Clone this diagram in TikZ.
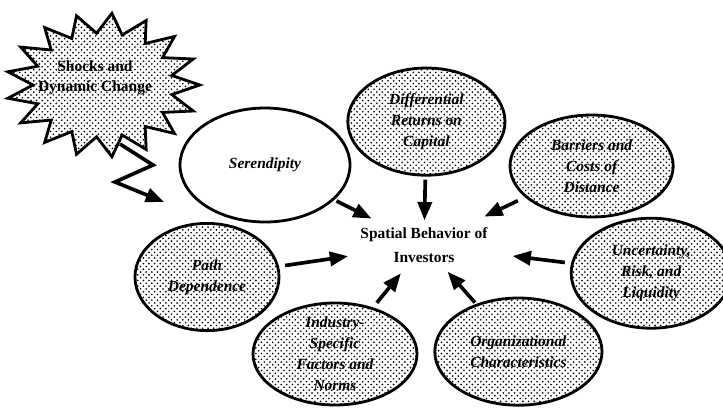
\documentclass[tikz,border=0pt]{standalone}
\usepackage{fontspec}
\setmainfont{Liberation Serif}
\usepackage{tikz}
\usetikzlibrary{positioning, arrows.meta, patterns, shapes.geometric, calc}
\pgfdeclarepatternformonly{sparse dots}{\pgfqpoint{-1pt}{-1pt}}{\pgfqpoint{5pt}{5pt}}{\pgfqpoint{4pt}{4pt}}%
{
  \pgfpathcircle{\pgfqpoint{0pt}{0pt}}{0.65pt}
  \pgfpathcircle{\pgfqpoint{2pt}{2pt}}{0.65pt}
  \pgfusepath{fill}
}
\tikzstyle{dot_node}=[ellipse, draw, line width=2pt, preaction={fill=white}, pattern=sparse dots, align=center, inner sep=0pt, font=\fontsize{11}{15}\selectfont\bfseries\itshape]
\tikzstyle{white_node}=[ellipse, draw, line width=2pt, fill=white, align=center, inner sep=0pt, font=\fontsize{11}{15}\selectfont\bfseries\itshape]
\tikzstyle{big_arrow}=[-{Triangle[length=13pt, width=10pt]}, line width=2.6pt]

\begin{document}
\begin{tikzpicture}
    \useasboundingbox (0,0) rectangle (18.075,-10.175);

    % the burst
    \begin{scope}[shift={(2.575,-2.125)}]
        \draw[line width=2pt, preaction={fill=white}, pattern=sparse dots, line join=miter]
            (0:2.42 and 1.8) \foreach \i in {0,...,16} {-- ({(\i+0.5)*360/17}:1.75 and 1.3) -- ({(\i+1)*360/17}:2.42 and 1.8)} -- cycle;
    \end{scope}
    \node[font=\fontsize{11}{14}\selectfont\bfseries, align=center] at (2.375, -1.95) (shock) {Shocks and\\Dynamic Change};

    \coordinate (zap0) at (3.0, -3.6);
    \coordinate (zap1) at (3.825, -4.125);
    \coordinate (zap2) at (2.875, -4.55);
    \coordinate (zap3) at (4.1, -5.05);
    \draw[big_arrow, line join=miter] (zap0) -- (zap1) -- (zap2) -- (zap3);

    \node[white_node, minimum width=4.25cm, minimum height=2.85cm] at ( 6.625, -4.125) (ser) {Serendipity};
    \node[dot_node, minimum width=3.93cm, minimum height=2.68cm] at (10.66, -3.04) (diff) {Differential\\Returns on\\Capital};
    \node[dot_node, minimum width=4.08cm, minimum height=2.55cm] at (14.79, -4.15) (bar) {Barriers and\\Costs of\\Distance};
    \node[dot_node, minimum width=4.0cm, minimum height=2.75cm] at (16.28, -6.83) (unc) {Uncertainty,\\Risk, and\\Liquidity};
    \node[dot_node, minimum width=3.6cm, minimum height=2.68cm] at ( 5.175, -6.925) (path) {Path\\Dependence};
    \node[dot_node, minimum width=4.1cm, minimum height=2.55cm, inner ysep=-6pt] at ( 8.375, -8.85) (ind) {Industry-\\Specific\\Factors and\\Norms};
    \node[dot_node, minimum width=4.18cm, minimum height=2.68cm] at (12.96, -8.79) (org) {Organizational\\Characteristics};

    \node[font=\fontsize{11}{17}\selectfont\bfseries, align=center] at (10.6, -6.125) (spb) {Spatial Behavior of\\Investors};

    \draw[big_arrow] ($(ser)!0.45!(spb)$) -- ($(ser)!0.67!(spb)$);
    \draw[big_arrow] ($(diff)!0.47!(spb)$) -- ($(diff)!0.8!(spb)$);
    \draw[big_arrow] ($(bar)!0.44!(spb)$) -- ($(bar)!0.64!(spb)$);
    \draw[big_arrow] ($(unc)!0.38!(spb)$) -- ($(unc)!0.61!(spb)$);
    \draw[big_arrow] ($(org)!0.46!(spb)$) -- ($(org)!0.75!(spb)$);
    \draw[big_arrow] ($(ind)!0.47!(spb)$) -- ($(ind)!0.74!(spb)$);
    \draw[big_arrow] ($(path)!0.36!(spb)$) -- ($(path)!0.65!(spb)$);
\end{tikzpicture}
\end{document}
